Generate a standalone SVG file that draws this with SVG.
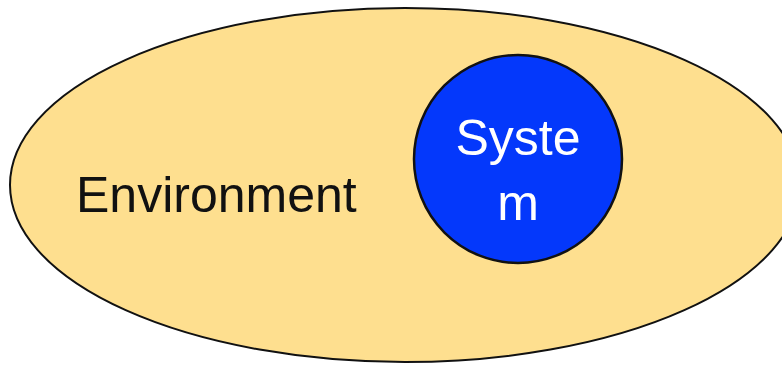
<svg xmlns="http://www.w3.org/2000/svg" width="782" height="365" viewBox="0 0 782 365">
<style>
text{font-family:"Liberation Sans",Arial,sans-serif;font-size:50px;}
.env{fill:#FEDF8F;stroke:#111;stroke-width:2;}
.sys{fill:#0438FB;stroke:#111;stroke-width:2.5;}
</style>
<rect width="782" height="365" fill="#ffffff"/>
<g id="environment">
<ellipse class="env" cx="405" cy="185" rx="395" ry="177"/>
<text x="76" y="212" fill="#111">Environment</text>
</g>
<g id="system">
<circle class="sys" cx="518" cy="159" r="104"/>
<text x="518" y="155" fill="#ffffff" text-anchor="middle">Syste</text>
<text x="518" y="220" fill="#ffffff" text-anchor="middle">m</text>
</g>
<g id="connectors"></g>
</svg>
